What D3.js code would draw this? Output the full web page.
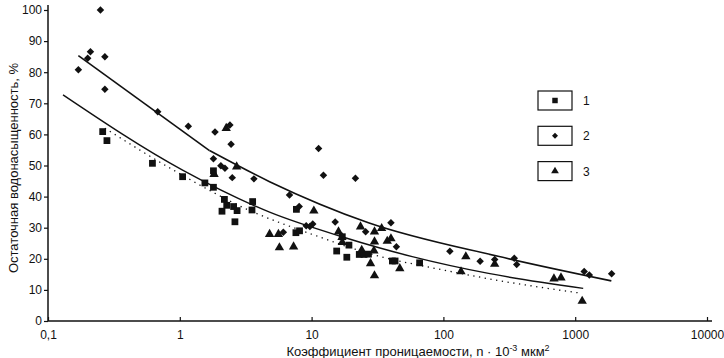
<!DOCTYPE html>
<html>
<head>
<meta charset="utf-8">
<script src="https://cdn.jsdelivr.net/npm/d3@7"></script>
<style>
  body { margin: 0; background: #fff; }
  text { font-family: "Liberation Sans", Arial, sans-serif; fill: #111; }
</style>
</head>
<body>
<svg id="chart" width="724" height="358"></svg>
<script>
// Tick labels
const xTicks = [0.1, 1, 10, 100, 1000, 10000];
const xTickLabels = ["0,1", "1", "10", "100", "1000", "10000"];
const yTicks = [0, 10, 20, 30, 40, 50, 60, 70, 80, 90, 100];

// Series 1 (squares): permeability, residual water saturation %
const sq = [
  [0.26, 60.9], [0.28, 58], [0.62, 50.7], [1.05, 46.4], [1.55, 44.4], [1.8, 43],
  [1.8, 48.3], [2.18, 39.1], [2.27, 37.2], [2.56, 36.8], [2.09, 35.3], [2.72, 35.5],
  [2.62, 31.9], [3.57, 38.4], [3.53, 35.7], [7.67, 35.9], [7.6, 28.4], [8.1, 29],
  [17.1, 27.1], [19.2, 24.4], [15.5, 22.5], [18.5, 20.5], [23, 21.4], [25, 21.4],
  [27, 21.5], [41, 19.3], [43, 19.3], [66, 18.7]
];

// Series 2 (diamonds)
const dm = [
  [0.17, 80.8], [0.2, 84.5], [0.21, 86.6], [0.25, 100], [0.27, 85], [0.27, 74.5],
  [0.68, 67.3], [1.16, 62.6], [1.85, 60.8], [2.4, 63], [2.45, 56.8], [1.8, 52.2],
  [2.05, 49.9], [2.2, 49.1], [2.5, 46.1], [3.65, 45.7], [6.8, 40.5], [11.3, 55.5],
  [12.3, 46.9], [21.5, 45.9], [8.05, 36.8], [6.1, 28.5], [9.1, 30.6], [9.7, 30.4],
  [10.2, 31.2], [15.1, 31.8], [25.7, 28.7], [40, 31.6], [44, 23.9], [112, 22.4],
  [190, 19.2], [245, 19.8], [345, 20.2], [360, 18.2], [1170, 15.9], [1280, 14.8],
  [1890, 15.2]
];

// Series 3 (triangles)
const tr = [
  [2.25, 62], [2.7, 49.6], [1.82, 47.2], [10.4, 35.4], [4.8, 27.9], [5.6, 27.9],
  [5.7, 23.6], [7.3, 23.9], [16, 28.7], [17, 26.9], [17.1, 25.3], [23.5, 30.3],
  [24, 22.8], [30, 28.7], [34, 29.8], [30, 25.5], [37.5, 25.7], [40, 26.5],
  [29.7, 22.6], [28, 18.5], [30, 14.6], [46.7, 16.9], [148, 20.7], [136, 15.9],
  [245, 18.3], [690, 13.6], [780, 13.9], [1130, 6.4]
];

// Trend lines
const upperStraight = [[0.17, 85.3], [1.68, 54.8]];
const upperCurve = [[1.68, 54.8], [4.8, 44.8], [27, 31.6], [260, 20.8], [1880, 12.9]];
const middleLine = [
  [0.13, 72.7], [1.05, 48.5], [4.8, 35], [17, 27.1], [58, 20.7], [220, 15.3], [1150, 10.5]
];
const dottedLine = [
  [0.27, 62], [0.94, 48], [3.4, 35.5], [9.6, 28.2], [32, 20.9], [87, 16.9], [240, 13.3], [1120, 8.9]
];

const legendItems = ["1", "2", "3"];

const svg = d3.select("#chart");

let x = d3.scaleLog().domain([0.1, 10000]).range([48, 707]);
let y = d3.scaleLinear().domain([0, 100]).range([321, 10]);

// Axes
let xAxis = svg.append("g")
    .attr("transform", `translate(0, ${y(0)})`)
    .call(d3.axisBottom(x).tickValues(xTicks).tickSizeInner(-4).tickSizeOuter(0)
      .tickFormat((d, i) => xTickLabels[i]));
xAxis.select(".domain").attr("d", `M${x(0.1)},0H712`).attr("stroke", "#111").attr("stroke-width", 1.5);
xAxis.selectAll("line").attr("stroke", "#111").attr("stroke-width", 1.2);
xAxis.selectAll("text").attr("y", 9).style("font-size", "12px")
    .attr("font-family", "Liberation Sans, Arial, sans-serif").attr("fill", "#111");

let yAxis = svg.append("g")
    .attr("transform", `translate(${x(0.1)}, 0)`)
    .call(d3.axisLeft(y).tickValues(yTicks).tickSize(4).tickSizeOuter(0));
yAxis.select(".domain").attr("d", `M0,${y(0)}V5`).attr("stroke", "#111").attr("stroke-width", 1.5);
yAxis.selectAll("line").attr("stroke", "#111").attr("stroke-width", 1.2);
yAxis.selectAll("text").attr("x", -6).style("font-size", "12px")
    .attr("font-family", "Liberation Sans, Arial, sans-serif").attr("fill", "#111");

// Axis titles
svg.append("text")
    .attr("transform", "translate(18, 168) rotate(-90)")
    .attr("text-anchor", "middle")
    .style("font-size", "13px")
    .text("Остаточная водонасыщенность, %");

let xTitle = svg.append("text")
    .attr("x", 418).attr("y", 356)
    .attr("text-anchor", "middle")
    .style("font-size", "13px");
xTitle.append("tspan").text("Коэффициент проницаемости,  n · 10");
xTitle.append("tspan").attr("dy", -5).style("font-size", "9px").text("-3");
xTitle.append("tspan").attr("dy", 5).text("  мкм");
xTitle.append("tspan").attr("dy", -5).style("font-size", "9px").text("2");

// Lines
let line = d3.line()
    .x(d => x(d[0]))
    .y(d => y(d[1]));

svg.append("path").attr("d", line(upperStraight))
    .attr("fill", "none").attr("stroke", "#111").attr("stroke-width", 1.6);
svg.append("path").attr("d", line.curve(d3.curveMonotoneX)(upperCurve))
    .attr("fill", "none").attr("stroke", "#111").attr("stroke-width", 1.6);
svg.append("path").attr("d", line.curve(d3.curveMonotoneX)(middleLine))
    .attr("fill", "none").attr("stroke", "#111").attr("stroke-width", 1.4);
svg.append("path").attr("d", line.curve(d3.curveMonotoneX)(dottedLine))
    .attr("fill", "none").attr("stroke", "#111").attr("stroke-width", 1.3)
    .attr("stroke-dasharray", "1.3,4.5");

// Markers
let squareSym = d3.symbol().type(d3.symbolSquare).size(46);
let diamondSym = d3.symbol().type(d3.symbolSquare).size(28);
let triangleSym = d3.symbol().type(d3.symbolTriangle).size(38);

svg.append("g").selectAll("path").data(sq).join("path")
    .attr("d", squareSym)
    .attr("transform", d => `translate(${x(d[0])}, ${y(d[1])})`)
    .attr("fill", "#111");

svg.append("g").selectAll("path").data(dm).join("path")
    .attr("d", diamondSym)
    .attr("transform", d => `translate(${x(d[0])}, ${y(d[1])}) rotate(45)`)
    .attr("fill", "#111");

svg.append("g").selectAll("path").data(tr).join("path")
    .attr("d", triangleSym)
    .attr("transform", d => `translate(${x(d[0])}, ${y(d[1])})`)
    .attr("fill", "#111");

// Legend
let legend = svg.append("g")
  .selectAll("g").data(legendItems).join("g")
    .attr("transform", (d, i) => `translate(538, ${91 + i * 35.3})`);

legend.append("rect")
    .attr("width", 34).attr("height", 19)
    .attr("fill", "none").attr("stroke", "#111").attr("stroke-width", 1.2);

legend.append("path")
    .attr("d", (d, i) => [d3.symbol().type(d3.symbolSquare).size(30)(),
                          d3.symbol().type(d3.symbolSquare).size(18)(),
                          d3.symbol().type(d3.symbolTriangle).size(26)()][i])
    .attr("transform", (d, i) => `translate(17, 9.5)${i === 1 ? " rotate(45)" : ""}`)
    .attr("fill", "#111");

legend.append("text")
    .attr("x", 45).attr("y", 14)
    .style("font-size", "12px")
    .text(d => d);
</script>
</body>
</html>
